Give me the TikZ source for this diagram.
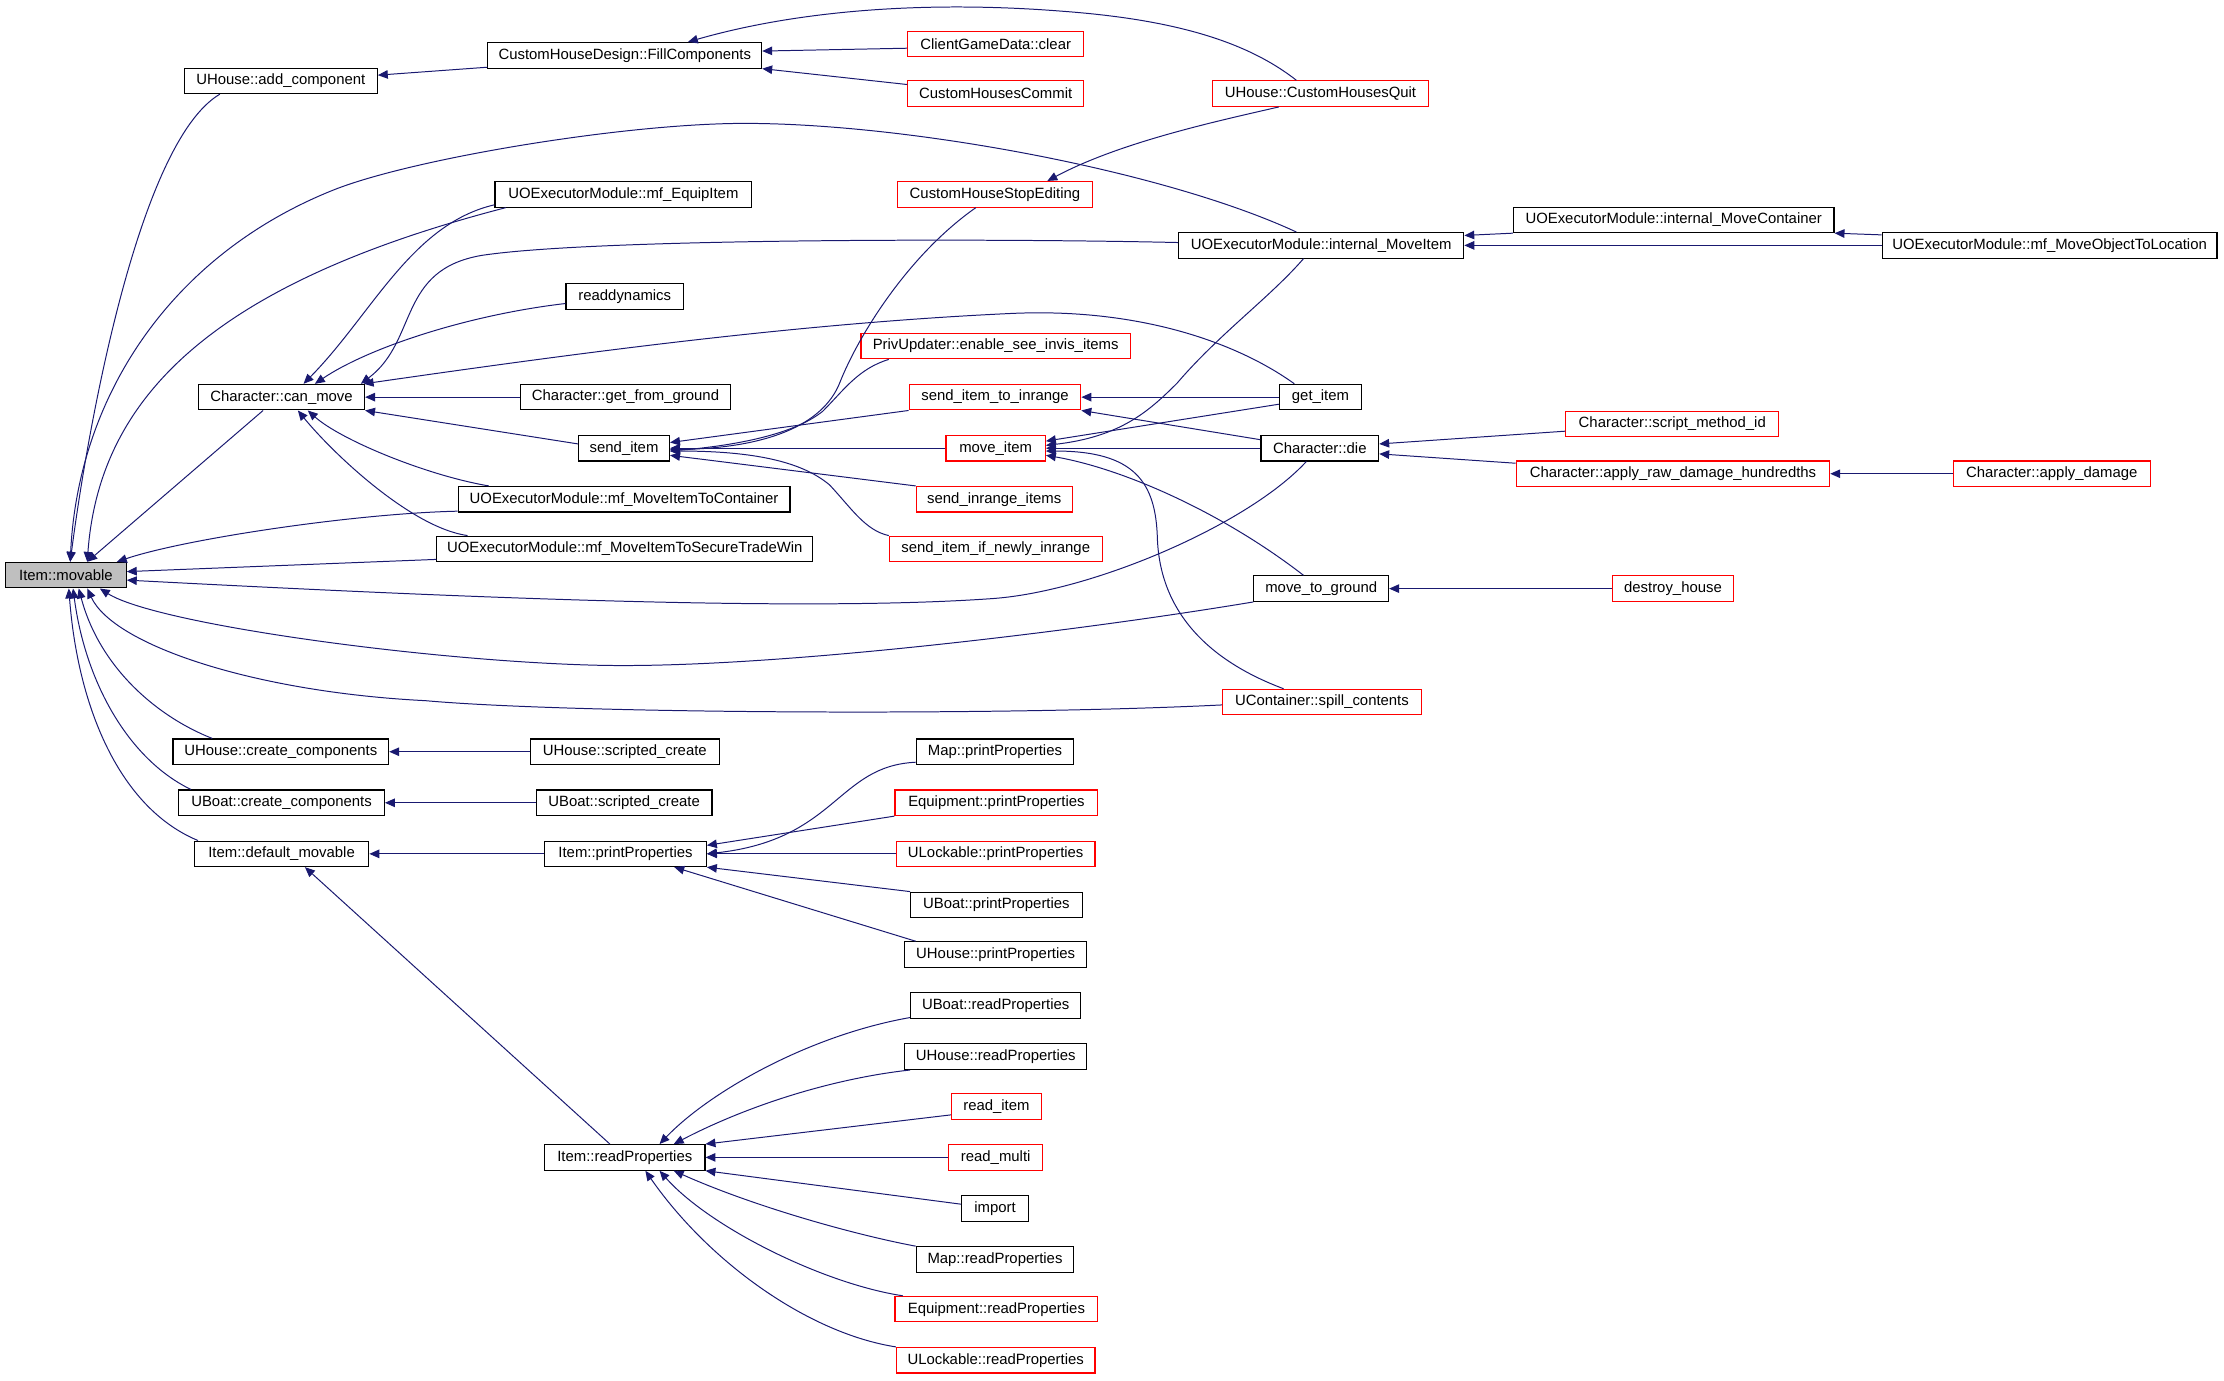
\documentclass[tikz,border=0pt]{standalone}
\usepackage{fontspec}
\setmainfont{Liberation Sans}
\usetikzlibrary{arrows.meta}
\definecolor{edgeblue}{HTML}{191970}
\tikzset{
  fn/.style={draw=black, line width=0.8pt, minimum height=18pt, inner sep=0pt, font=\fontsize{10.5}{12}\selectfont},
  fnred/.style={fn, draw=red},
  call/.style={draw=edgeblue, line width=0.7pt, {Triangle[length=7pt,width=6pt]}-},
}

\begin{document}
\begin{tikzpicture}[x=1pt,y=-1pt]
\useasboundingbox (0,0) rectangle (1568,973);

\node[fn, fill=gray!50, minimum width=85pt] (movable) at (46.5,405.5) {Item::movable};
\node[fn, minimum width=136pt] (addcomp) at (198,57) {UHouse::add\_component};
\node[fn, minimum width=193pt] (fillcomp) at (440.5,39) {CustomHouseDesign::FillComponents};
\node[fnred, minimum width=124pt] (clear) at (702,31) {ClientGameData::clear};
\node[fnred, minimum width=124pt] (commit) at (702,66) {CustomHousesCommit};
\node[fnred, minimum width=152pt] (quit) at (931,66) {UHouse::CustomHousesQuit};
\node[fn, minimum width=181pt] (equip) at (439.5,137) {UOExecutorModule::mf\_EquipItem};
\node[fnred, minimum width=137pt] (stopedit) at (701.5,137) {CustomHouseStopEditing};
\node[fn, minimum width=201pt] (intmove) at (931.5,173) {UOExecutorModule::internal\_MoveItem};
\node[fn, minimum width=226pt] (intcont) at (1180,155) {UOExecutorModule::internal\_MoveContainer};
\node[fn, minimum width=236pt] (objloc) at (1445,173) {UOExecutorModule::mf\_MoveObjectToLocation};
\node[fn, minimum width=83pt] (readdyn) at (440.5,209) {readdynamics};
\node[fnred, minimum width=190pt] (privupd) at (702,244) {PrivUpdater::enable\_see\_invis\_items};
\node[fn, minimum width=117pt] (canmove) at (198.5,280) {Character::can\_move};
\node[fn, minimum width=148pt] (getground) at (441,280) {Character::get\_from\_ground};
\node[fnred, minimum width=121pt] (toinrange) at (701.5,280) {send\_item\_to\_inrange};
\node[fn, minimum width=58pt] (getitem) at (931,280) {get\_item};
\node[fnred, minimum width=150pt] (scriptid) at (1179,299) {Character::script\_method\_id};
\node[fn, minimum width=64pt] (senditem) at (440,316) {send\_item};
\node[fnred, minimum width=70pt] (moveitem) at (702,316) {move\_item};
\node[fn, minimum width=83pt] (die) at (930.5,316) {Character::die};
\node[fnred, minimum width=221pt] (rawdmg) at (1179.5,334) {Character::apply\_raw\_damage\_hundredths};
\node[fnred, minimum width=139pt] (applydmg) at (1446.5,334) {Character::apply\_damage};
\node[fn, minimum width=234pt] (tocont) at (440,352) {UOExecutorModule::mf\_MoveItemToContainer};
\node[fnred, minimum width=110pt] (inrangeitems) at (701,352) {send\_inrange\_items};
\node[fn, minimum width=265pt] (securetrade) at (440.5,387) {UOExecutorModule::mf\_MoveItemToSecureTradeWin};
\node[fnred, minimum width=150pt] (newlyinrange) at (702,387) {send\_item\_if\_newly\_inrange};
\node[fn, minimum width=95pt] (movetoground) at (931.5,415) {move\_to\_ground};
\node[fnred, minimum width=85pt] (destroy) at (1179.5,415) {destroy\_house};
\node[fnred, minimum width=140pt] (spill) at (932,495) {UContainer::spill\_contents};
\node[fn, minimum width=152pt] (hcreate) at (198,530) {UHouse::create\_components};
\node[fn, minimum width=133pt] (hscripted) at (440.5,530) {UHouse::scripted\_create};
\node[fn, minimum width=111pt] (mapprint) at (701.5,530) {Map::printProperties};
\node[fn, minimum width=145pt] (bcreate) at (198.5,566) {UBoat::create\_components};
\node[fn, minimum width=124pt] (bscripted) at (440,566) {UBoat::scripted\_create};
\node[fnred, minimum width=143pt] (equipprint) at (702.5,566) {Equipment::printProperties};
\node[fn, minimum width=123pt] (defmov) at (198.5,602) {Item::default\_movable};
\node[fn, minimum width=114pt] (itemprint) at (441,602) {Item::printProperties};
\node[fnred, minimum width=140pt] (lockprint) at (702,602) {ULockable::printProperties};
\node[fn, minimum width=121pt] (boatprint) at (702.5,638) {UBoat::printProperties};
\node[fn, minimum width=128pt] (houseprint) at (702,673) {UHouse::printProperties};
\node[fn, minimum width=120pt] (boatread) at (702,709) {UBoat::readProperties};
\node[fn, minimum width=128pt] (houseread) at (702,745) {UHouse::readProperties};
\node[fnred, minimum width=63pt] (readitem) at (702.5,780) {read\_item};
\node[fn, minimum width=113pt] (itemread) at (440.5,816) {Item::readProperties};
\node[fnred, minimum width=66pt] (readmulti) at (702,816) {read\_multi};
\node[fn, minimum width=47pt] (import) at (701.5,852) {import};
\node[fn, minimum width=111pt] (mapread) at (701.5,888) {Map::readProperties};
\node[fnred, minimum width=143pt] (equipread) at (702.5,923) {Equipment::readProperties};
\node[fnred, minimum width=140pt] (lockread) at (702,959) {ULockable::readProperties};

% callers of Item::movable
\draw[call] ([xshift=3pt]movable.north) .. controls (62,300) and (98,100) .. ([xshift=-43pt]addcomp.south);
\draw[call] ([xshift=3pt]movable.north) .. controls (55,280) and (120,180) .. (235,134) .. controls (290,112) and (440,87) .. (525,87) .. controls (640,87) and (820,120) .. ([xshift=-17.5pt]intmove.north);
\draw[call] ([xshift=15pt]movable.north) .. controls (70,280) and (150,200) .. ([xshift=8pt]equip.south west);
\draw[call] ([xshift=15pt]movable.north) -- ([xshift=-13pt]canmove.south);
\draw[call] ([xshift=-7pt]movable.north east) .. controls (130,380) and (250,362) .. ([yshift=1pt]tocont.south west);
\draw[call] ([yshift=2.5pt]movable.east) -- ([yshift=2pt]securetrade.south west);
\draw[call] ([yshift=-3.5pt]movable.east) .. controls (300,420) and (560,432) .. (700,422) .. controls (770,417) and (880,370) .. ([xshift=-9.5pt]die.south);
\draw[call] ([xshift=-19pt]movable.south east) .. controls (110,440) and (300,466) .. (420,469) .. controls (540,472) and (760,445) .. (movetoground.south west);
\draw[call] ([xshift=15pt]movable.south) .. controls (80,455) and (180,488) .. (300,494) .. controls (400,503) and (700,505) .. ([yshift=-2pt]spill.west);
\draw[call] ([xshift=9pt]movable.south) .. controls (70,470) and (110,505) .. ([xshift=28pt]hcreate.north west);
\draw[call] ([xshift=5pt]movable.south) .. controls (60,480) and (90,535) .. ([xshift=9pt]bcreate.north west);
\draw[call] ([xshift=2pt]movable.south) .. controls (55,500) and (85,570) .. ([xshift=3pt]defmov.north west);

% callers of Character::can_move
\draw[call] ([xshift=15.5pt]canmove.north) .. controls (262,222) and (290,158) .. ([yshift=2pt]equip.south west);
\draw[call] ([xshift=23.5pt]canmove.north) .. controls (260,245) and (330,222) .. ([yshift=-5pt]readdyn.west);
\draw[call] ([xshift=-3pt]canmove.north east) .. controls (295,240) and (280,190) .. (340,180) .. controls (420,168) and (700,168) .. ([yshift=2pt]intmove.west);
\draw[call] ([xshift=-1pt]canmove.north east) .. controls (400,250) and (560,228) .. (713,221) .. controls (800,217) and (870,240) .. ([xshift=11pt]getitem.north west);
\draw[call] (canmove.east) -- (getground.west);
\draw[call] (canmove.south east) -- ([yshift=3pt]senditem.west);
\draw[call] ([xshift=18.5pt]canmove.south) .. controls (240,310) and (300,335) .. ([xshift=22pt]tocont.north west);
\draw[call] ([xshift=11.5pt]canmove.south) .. controls (235,320) and (290,372) .. ([xshift=22pt]securetrade.north west);

\draw[call] ([yshift=4pt]addcomp.east) -- ([yshift=1pt]fillcomp.south west);
\draw[call] ([yshift=3pt]fillcomp.east) -- ([yshift=-3pt]clear.west);
\draw[call] (fillcomp.south east) -- ([yshift=-3pt]commit.north west);
\draw[call] ([xshift=44.5pt]fillcomp.north) .. controls (560,8) and (650,0) .. (750,8) .. controls (830,14) and (880,30) .. ([xshift=-17pt]quit.north);
\draw[call] ([xshift=-32pt]stopedit.north east) .. controls (790,100) and (860,85) .. ([xshift=47pt]quit.south west);

% callers of send_item
\draw[call] ([yshift=-1pt]senditem.east) .. controls (540,316) and (580,300) .. (592,270) .. controls (605,237) and (640,180) .. ([xshift=-13.5pt]stopedit.south);
\draw[call] ([yshift=-2pt]senditem.east) .. controls (520,314) and (560,306) .. (580,290) .. controls (595,275) and (605,260) .. ([xshift=20pt]privupd.south west);
\draw[call] ([yshift=4pt]senditem.east) -- (toinrange.south west);
\draw[call] (senditem.east) -- (moveitem.west);
\draw[call] ([yshift=-5pt]senditem.east) -- (inrangeitems.north west);
\draw[call] ([yshift=-2pt]senditem.east) .. controls (530,318) and (565,325) .. (585,342) .. controls (600,358) and (610,374) .. (newlyinrange.north west);

\draw[call] (toinrange.east) -- (getitem.west);
\draw[call] (toinrange.south east) -- ([yshift=6pt]die.west);

% callers of move_item
\draw[call] ([yshift=5pt]moveitem.east) -- ([yshift=-5pt]getitem.west);
\draw[call] ([yshift=2pt]moveitem.east) .. controls (790,308) and (810,290) .. (830,270) .. controls (860,235) and (895,210) .. ([xshift=-12.5pt]intmove.south);
\draw[call] (moveitem.east) -- (die.west);
\draw[call] ([yshift=-5pt]moveitem.east) .. controls (790,330) and (860,360) .. ([xshift=-12.5pt]movetoground.north);
\draw[call] ([yshift=-2pt]moveitem.east) .. controls (800,318) and (815,340) .. (816,380) .. controls (818,430) and (850,465) .. ([xshift=-27pt]spill.north);

\draw[call] ([yshift=3pt]die.east) -- ([yshift=-5pt]scriptid.west);
\draw[call] ([yshift=-4pt]die.east) -- ([yshift=-2pt]rawdmg.north west);
\draw[call] (rawdmg.east) -- (applydmg.west);
\draw[call] ([yshift=7pt]intmove.east) -- (intcont.south west);
\draw[call] (intmove.east) -- (objloc.west);
\draw[call] (intcont.south east) -- ([yshift=-2pt]objloc.north west);
\draw[call] (movetoground.east) -- (destroy.west);
\draw[call] (hcreate.east) -- (hscripted.west);
\draw[call] (bcreate.east) -- (bscripted.west);
\draw[call] (defmov.east) -- (itemprint.west);
\draw[call] ([xshift=16.5pt]defmov.south) -- ([xshift=-10.5pt]itemread.north);

% printProperties
\draw[call] (itemprint.east) .. controls (590,592) and (590,540) .. ([yshift=2pt]mapprint.south west);
\draw[call] ([yshift=6pt]itemprint.east) -- (equipprint.south west);
\draw[call] (itemprint.east) -- (lockprint.west);
\draw[call] (itemprint.south east) -- (boatprint.north west);
\draw[call] ([xshift=-23pt]itemprint.south east) -- ([xshift=8pt]houseprint.north west);

% readProperties
\draw[call] ([xshift=24.5pt]itemread.north) .. controls (500,770) and (570,730) .. ([yshift=1pt]boatread.south west);
\draw[call] ([xshift=34.5pt]itemread.north) .. controls (530,778) and (590,760) .. ([xshift=4pt]houseread.south west);
\draw[call] (itemread.north east) -- ([yshift=-6pt]readitem.west);
\draw[call] (itemread.east) -- (readmulti.west);
\draw[call] (itemread.south east) -- ([yshift=3pt]import.west);
\draw[call] ([xshift=34.5pt]itemread.south) .. controls (530,850) and (600,870) .. (mapread.north west);
\draw[call] ([xshift=24.5pt]itemread.south) .. controls (500,865) and (580,905) .. ([xshift=6pt]equipread.north west);
\draw[call] ([xshift=14.5pt]itemread.south) .. controls (500,890) and (570,940) .. (lockread.north west);
\end{tikzpicture}
\end{document}
